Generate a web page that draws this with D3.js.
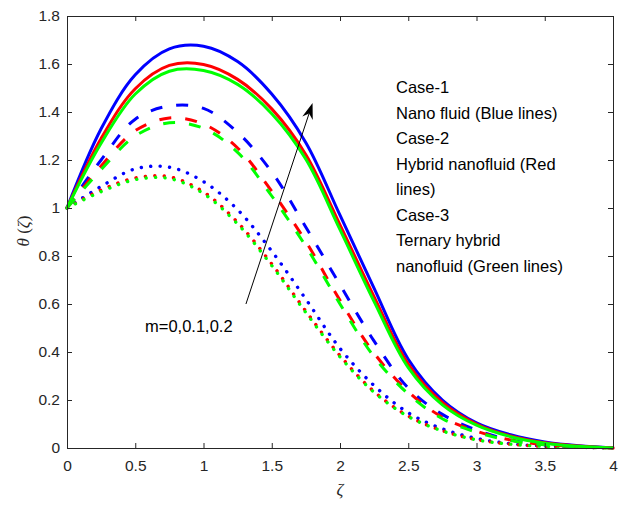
<!DOCTYPE html>
<html>
<head>
<meta charset="utf-8">
<script src="https://cdn.jsdelivr.net/npm/d3@7"></script>
<style>
  body { margin: 0; background: #fff; }
  svg text { font-family: "Liberation Sans", Arial, sans-serif; }
</style>
</head>
<body>
<div id="chart"></div>
<script>
// zeta grid and theta values
var zeta = [0, 0.25, 0.5, 0.75, 1, 1.25, 1.5, 1.75, 2, 2.25, 2.5, 2.75, 3, 3.25, 3.5, 3.75, 4];

// m = 0.2 (solid)
var solidBlue  = [1, 1.33, 1.555, 1.663, 1.674, 1.61, 1.475, 1.272, 0.97, 0.665, 0.37, 0.2, 0.105, 0.055, 0.025, 0.009, 0];
var solidRed   = [1, 1.29, 1.497, 1.594, 1.598, 1.536, 1.413, 1.222, 0.93, 0.63, 0.35, 0.19, 0.1, 0.05, 0.022, 0.008, 0];
var solidGreen = [1, 1.27, 1.475, 1.57, 1.573, 1.515, 1.393, 1.203, 0.91, 0.61, 0.335, 0.18, 0.095, 0.047, 0.02, 0.007, 0];

// m = 0.1 (dashed)
var dashBlue  = [1, 1.2, 1.37, 1.425, 1.415, 1.315, 1.15, 0.92, 0.68, 0.445, 0.25, 0.14, 0.075, 0.033, 0.014, 0.005, 0];
var dashRed   = [1, 1.175, 1.322, 1.375, 1.35, 1.25, 1.07, 0.86, 0.615, 0.395, 0.235, 0.128, 0.07, 0.033, 0.014, 0.005, 0];
var dashGreen = [1, 1.16, 1.30, 1.355, 1.332, 1.232, 1.05, 0.84, 0.6, 0.38, 0.225, 0.122, 0.066, 0.031, 0.013, 0.005, 0];

// m = 0 (dotted)
var dotBlue  = [1, 1.09, 1.163, 1.17, 1.11, 0.993, 0.82, 0.62, 0.415, 0.26, 0.147, 0.08, 0.04, 0.018, 0.008, 0.003, 0];
var dotRed   = [1, 1.075, 1.125, 1.13, 1.067, 0.94, 0.767, 0.57, 0.385, 0.235, 0.133, 0.072, 0.035, 0.016, 0.007, 0.003, 0];
var dotGreen = [1, 1.068, 1.118, 1.123, 1.06, 0.933, 0.76, 0.564, 0.38, 0.232, 0.131, 0.071, 0.034, 0.016, 0.007, 0.003, 0];

var xTicks = [0, 0.5, 1, 1.5, 2, 2.5, 3, 3.5, 4];
var yTicks = [0, 0.2, 0.4, 0.6, 0.8, 1, 1.2, 1.4, 1.6, 1.8];

var legendLines = ["Case-1", "Nano fluid (Blue lines)", "Case-2", "Hybrid nanofluid (Red", "lines)",
                   "Case-3", "Ternary hybrid", "nanofluid (Green lines)"];

var arrowFrom = [1.311, 0.60];
var arrowTo = [1.799, 1.4375];

var series = [
  { v: dotBlue, c: "#0000ff", s: "dot" },
  { v: dotRed, c: "#ff0000", s: "dot" },
  { v: dotGreen, c: "#00ff00", s: "dot" },
  { v: dashBlue, c: "#0000ff", s: "dash" },
  { v: dashRed, c: "#ff0000", s: "dash" },
  { v: dashGreen, c: "#00ff00", s: "dash" },
  { v: solidBlue, c: "#0000ff", s: "solid" },
  { v: solidRed, c: "#ff0000", s: "solid" },
  { v: solidGreen, c: "#00ff00", s: "solid" }
];

var W = 626, H = 506;
var svg = d3.select('#chart').append('svg:svg').attr('width', W).attr('height', H);

var x = d3.scaleLinear().domain([0, 4]).range([67, 613]);
var y = d3.scaleLinear().domain([0, 1.8]).range([448, 16]);

var line = d3.line()
  .x(function(d, i) { return x(zeta[i]); })
  .y(function(d) { return y(Math.max(0, d)); })
  .curve(d3.curveCatmullRom.alpha(0.5));

// curves
series.forEach(function(s) {
  var p = svg.append('path')
    .attr('d', line(s.v))
    .attr('fill', 'none')
    .attr('stroke', s.c);
  if (s.s == "dot") {
    p.attr('stroke-width', 3.4).attr('stroke-linecap', 'round').attr('stroke-dasharray', '0.1 9.35');
  } else if (s.s == "dash") {
    p.attr('stroke-width', 3).attr('stroke-dasharray', '12 14');
  } else {
    p.attr('stroke-width', 3);
  }
});

// axes, ticks inside, box on
var axisColor = "#262626";
function styleAxis(g) {
  g.selectAll('path, line').attr('stroke', axisColor);
  g.selectAll('text').attr('fill', axisColor).style('font-size', '15.5px').style('font-family', '"Liberation Sans", Arial, sans-serif');
}

svg.append('g').attr('transform', 'translate(0,448)')
  .call(d3.axisBottom(x).tickValues(xTicks).tickFormat(d3.format('')).tickSizeInner(-5).tickSizeOuter(0).tickPadding(12))
  .call(styleAxis);
svg.append('g').attr('transform', 'translate(0,16)')
  .call(d3.axisTop(x).tickValues(xTicks).tickFormat('').tickSizeInner(-5).tickSizeOuter(0))
  .call(styleAxis);
svg.append('g').attr('transform', 'translate(67,0)')
  .call(d3.axisLeft(y).tickValues(yTicks).tickFormat(d3.format('')).tickSizeInner(-5).tickSizeOuter(0).tickPadding(7))
  .call(styleAxis);
svg.append('g').attr('transform', 'translate(613,0)')
  .call(d3.axisRight(y).tickValues(yTicks).tickFormat('').tickSizeInner(-5).tickSizeOuter(0))
  .call(styleAxis);

// axis labels
svg.append('text')
  .attr('x', x(2)).attr('y', 491)
  .attr('text-anchor', 'middle').attr('dominant-baseline', 'middle')
  .style('font-family', '"Liberation Serif", "Times New Roman", serif')
  .style('font-size', '17px').style('font-style', 'italic')
  .attr('fill', axisColor)
  .text('ζ');

var yl = svg.append('text')
  .attr('transform', 'translate(25,231) rotate(-90)')
  .attr('text-anchor', 'middle').attr('dominant-baseline', 'middle')
  .style('font-family', '"Liberation Serif", "Times New Roman", serif')
  .style('font-size', '17px')
  .attr('fill', axisColor);
yl.append('tspan').style('font-style', 'italic').text('θ');
yl.append('tspan').text(' (');
yl.append('tspan').style('font-style', 'italic').text('ζ');
yl.append('tspan').text(')');

// legend text block
svg.selectAll('.leg').data(legendLines).enter().append('text')
  .attr('class', 'leg')
  .attr('x', 396)
  .attr('y', function(d, i) { return 89 + i * 25.5; })
  .attr('dominant-baseline', 'middle')
  .style('font-size', '16.5px')
  .attr('fill', '#000')
  .text(function(d) { return d; });

// arrow annotation
var ax0 = x(arrowFrom[0]), ay0 = y(arrowFrom[1]);
var ax1 = x(arrowTo[0]), ay1 = y(arrowTo[1]);
var ang = Math.atan2(ay1 - ay0, ax1 - ax0);
var headLen = 16, headW = 5.5, notch = 11;
svg.append('line')
  .attr('x1', ax0).attr('y1', ay0)
  .attr('x2', ax1 - Math.cos(ang) * notch).attr('y2', ay1 - Math.sin(ang) * notch)
  .attr('stroke', '#000').attr('stroke-width', 1);
var ca = Math.cos(ang), sa = Math.sin(ang);
function pt(along, across) {
  return [ax1 - ca * along - sa * across, ay1 - sa * along + ca * across];
}
svg.append('path')
  .attr('d', d3.line()([pt(0, 0), pt(headLen, headW), pt(notch, 0), pt(headLen, -headW)]) + 'Z')
  .attr('fill', '#000');

svg.append('text')
  .attr('x', 145).attr('y', 328)
  .attr('dominant-baseline', 'middle')
  .style('font-size', '16.5px')
  .attr('fill', '#000')
  .text('m=0,0.1,0.2');
</script>
</body>
</html>
